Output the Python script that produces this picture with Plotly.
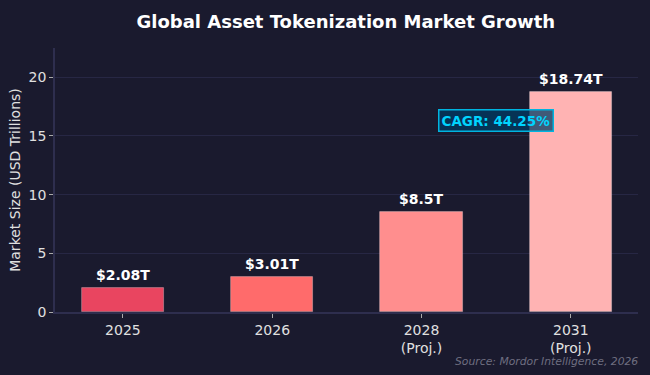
import plotly.graph_objects as go

categories = ["2025", "2026", "2028<br>(Proj.)", "2031<br>(Proj.)"]
values = [2.08, 3.01, 8.5, 18.74]
labels = ["$2.08T", "$3.01T", "$8.5T", "$18.74T"]
colors = ["#e94560", "#ff6b6b", "#ff8e8e", "#ffb3b3"]
cagr_text = "CAGR: 44.25%"
source_text = "Source: Mordor Intelligence, 2026"

xs = list(range(len(categories)))
ymax = max(values) * 1.2

fig = go.Figure()
fig.add_trace(go.Bar(
    x=xs, y=values, width=0.55,
    marker=dict(color=colors, line=dict(color="rgba(255,255,255,0.35)", width=0.8)),
    hoverinfo="skip", showlegend=False,
))

for x, v, t in zip(xs, values, labels):
    fig.add_annotation(x=x, y=v, text=f"<b>{t}</b>", showarrow=False,
                       yanchor="bottom", yshift=3,
                       font=dict(family="DejaVu Sans", size=14, color="white"))

fig.add_annotation(x=2.5, y=ymax * 0.725, text=f"<b>{cagr_text}</b>", showarrow=False,
                   font=dict(family="DejaVu Sans", size=13.5, color="#00d4ff"),
                   bgcolor="rgba(0,60,100,0.75)", bordercolor="#00b4e0", borderwidth=1.5,
                   borderpad=2)

fig.add_annotation(xref="paper", yref="paper", x=1.003, y=-0.186, text=f"<i>{source_text}</i>",
                   showarrow=False, xanchor="right", yanchor="middle",
                   font=dict(family="DejaVu Sans", size=10.8, color="#6e6e80"))

fig.update_layout(
    width=650, height=375,
    paper_bgcolor="#1a1a2e", plot_bgcolor="#1a1a2e",
    margin=dict(l=55, r=12, t=48, b=63),
    title=dict(text="<b>Global Asset Tokenization Market Growth</b>", x=0.532, xanchor="center",
               y=0.942, yanchor="middle",
               font=dict(family="DejaVu Sans", size=18, color="white")),
    font=dict(family="DejaVu Sans", color="#e0e0e0"),
    xaxis=dict(range=[-0.455, 3.45], tickmode="array", tickvals=xs, ticktext=categories,
               showgrid=False, zeroline=False, showline=True, linecolor="#2e2e4e", linewidth=1.5,
               ticks="outside", ticklen=4, tickcolor="#aaaaaa",
               tickfont=dict(size=14, color="#e0e0e0")),
    yaxis=dict(range=[0, ymax], tickvals=[0, 5, 10, 15, 20],
               showgrid=True, gridcolor="rgba(70,70,120,0.3)", gridwidth=1,
               zeroline=False, showline=True, linecolor="#2e2e4e", linewidth=1.5,
               ticks="outside", ticklen=4, tickcolor="#aaaaaa",
               tickfont=dict(size=14, color="#e0e0e0"),
               title=dict(text="Market Size (USD Trillions)", standoff=5,
                          font=dict(size=14, color="#e0e0e0"))),
    bargap=0,
)

fig.write_html("out.html", config={"displayModeBar": False},
               post_script="document.body.style.margin='0';document.body.style.background='#1a1a2e';")
